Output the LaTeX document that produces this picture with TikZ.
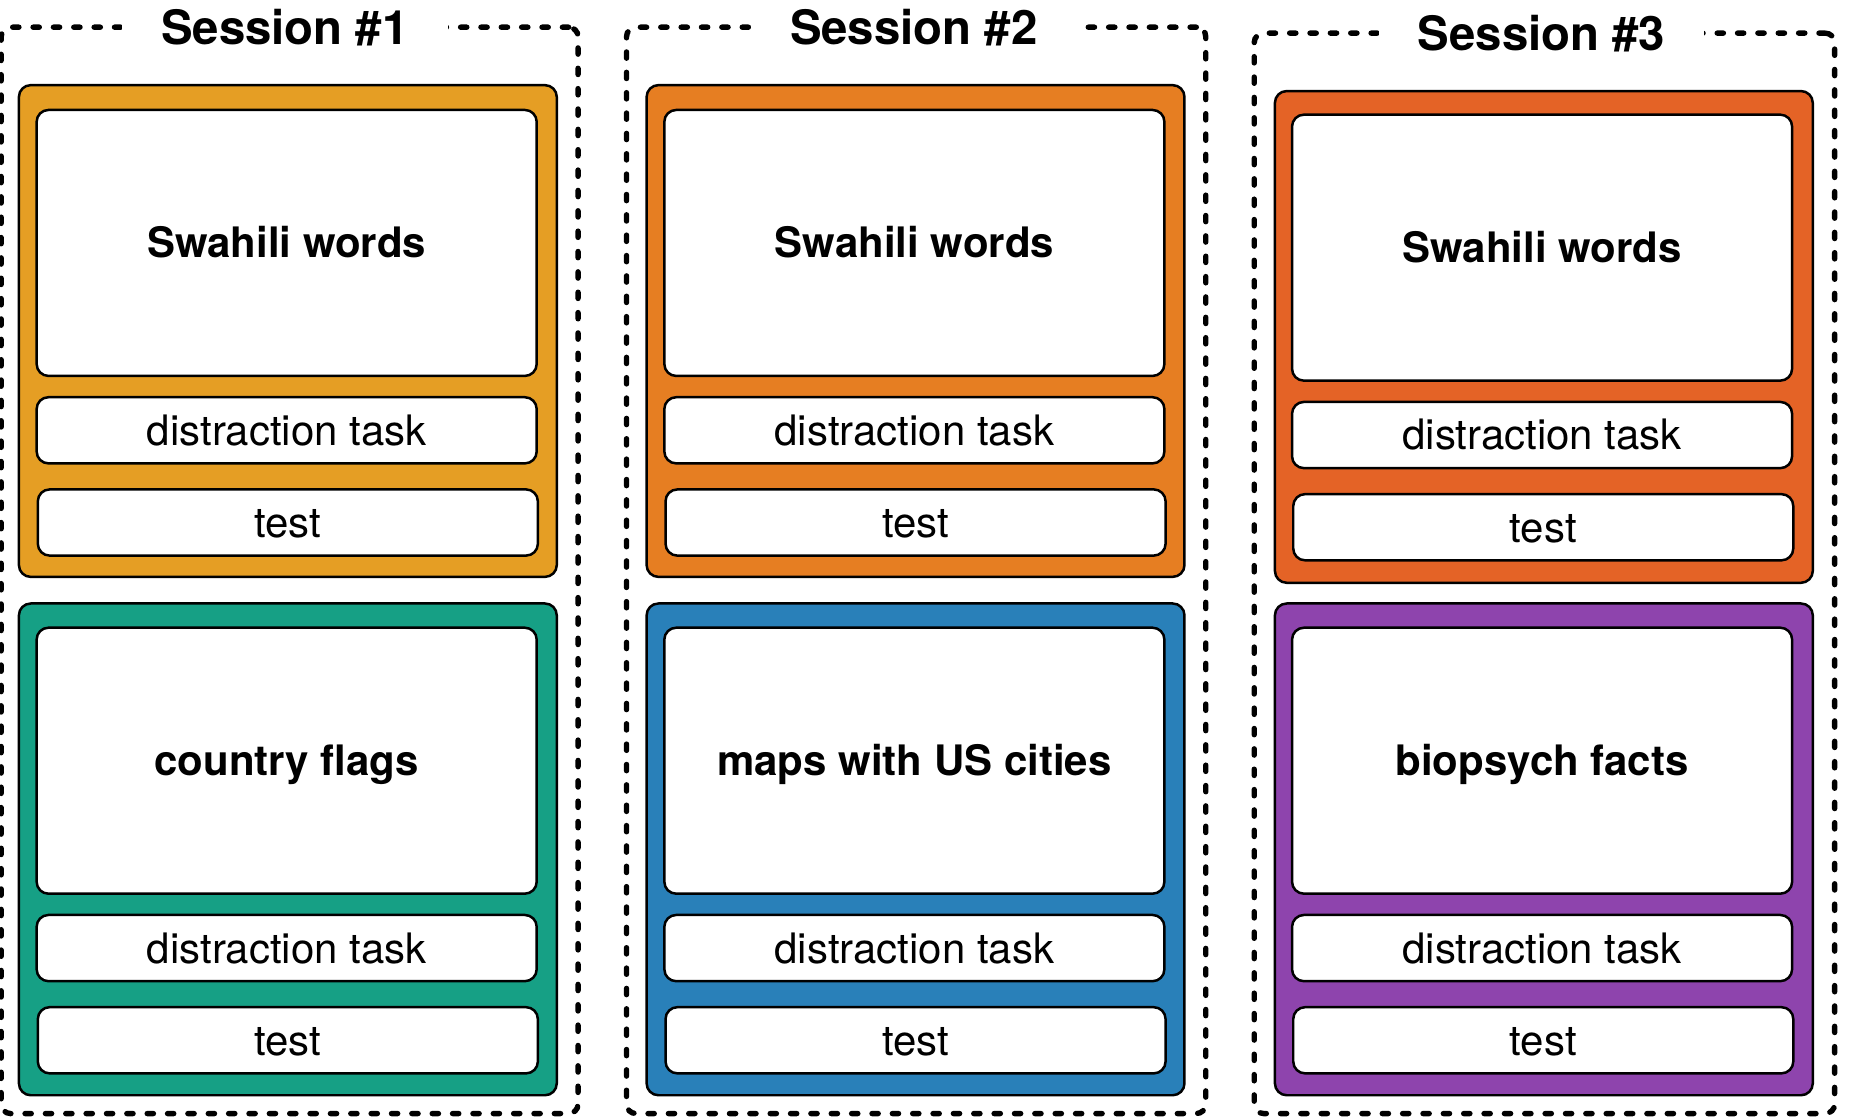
\documentclass[tikz,border=0pt]{standalone}
\usepackage{fontspec}
\setmainfont{TeX Gyre Heros}
\definecolor{swahiliA}{HTML}{E59E24}
\definecolor{flagsgreen}{HTML}{16A085}
\definecolor{swahiliB}{HTML}{E67E22}
\definecolor{mapsblue}{HTML}{2980B9}
\definecolor{swahiliC}{HTML}{E46326}
\definecolor{factspurple}{HTML}{8E44AD}
\tikzset{
  sessionframe/.style={draw, line width=1.3pt, dash pattern=on 1.5pt off 3.4pt, line cap=round, rounded corners=0.08cm},
  sessiontitle/.style={fill=white, inner xsep=0.33cm, inner ysep=0pt, text height=8.2pt, text depth=0pt, font=\fontsize{11.4}{13}\selectfont\bfseries},
  block/.style={draw, line width=0.6pt, rounded corners=0.1cm, minimum width=4.55cm, minimum height=4.16cm},
  card/.style={draw, fill=white, line width=0.6pt, rounded corners=0.1cm, minimum width=4.23cm, inner sep=0pt, text height=7.2pt, text depth=0pt, font=\fontsize{10.1}{12}\selectfont},
  bigcard/.style={card, minimum height=2.25cm, font=\fontsize{10.1}{12}\selectfont\bfseries},
  smallcard/.style={card, minimum height=0.56cm}
}
\begin{document}
\begin{tikzpicture}
    \useasboundingbox (0,0) rectangle (15.65,-9.466);
    % session 1
    \node[sessionframe, minimum width=4.88cm, minimum height=9.19cm] (frame1) at (2.45,-4.825) {};
    \node[sessiontitle] (title1) at (2.41,-0.23) {Session \#1};
    \node[block, fill=swahiliA] (block1a) at (2.435,-2.80) {};
    \node[bigcard] (words1a) at (2.425,-2.055) {Swahili words};
    \node[smallcard] (dist1a) at (2.425,-3.64) {distraction task};
    \node[smallcard] (test1a) at (2.435,-4.42) {test};
    \node[block, fill=flagsgreen] (block1b) at (2.435,-7.185) {};
    \node[bigcard] (words1b) at (2.425,-6.435) {country flags};
    \node[smallcard] (dist1b) at (2.425,-8.02) {distraction task};
    \node[smallcard] (test1b) at (2.435,-8.80) {test};
    % session 2
    \node[sessionframe, minimum width=4.90cm, minimum height=9.19cm] (frame2) at (7.75,-4.825) {};
    \node[sessiontitle] (title2) at (7.73,-0.23) {Session \#2};
    \node[block, fill=swahiliB] (block2a) at (7.745,-2.80) {};
    \node[bigcard] (words2a) at (7.735,-2.055) {Swahili words};
    \node[smallcard] (dist2a) at (7.735,-3.64) {distraction task};
    \node[smallcard] (test2a) at (7.745,-4.42) {test};
    \node[block, fill=mapsblue] (block2b) at (7.745,-7.185) {};
    \node[bigcard] (words2b) at (7.735,-6.435) {maps with US cities};
    \node[smallcard] (dist2b) at (7.735,-8.02) {distraction task};
    \node[smallcard] (test2b) at (7.745,-8.80) {test};
    % session 3
    \node[sessionframe, minimum width=4.91cm, minimum height=9.14cm] (frame3) at (13.065,-4.85) {};
    \node[sessiontitle] (title3) at (13.04,-0.28) {Session \#3};
    \node[block, fill=swahiliC] (block3a) at (13.06,-2.85) {};
    \node[bigcard] (words3a) at (13.045,-2.095) {Swahili words};
    \node[smallcard] (dist3a) at (13.045,-3.68) {distraction task};
    \node[smallcard] (test3a) at (13.055,-4.46) {test};
    \node[block, fill=factspurple] (block3b) at (13.06,-7.185) {};
    \node[bigcard] (words3b) at (13.045,-6.435) {biopsych facts};
    \node[smallcard] (dist3b) at (13.045,-8.02) {distraction task};
    \node[smallcard] (test3b) at (13.055,-8.80) {test};
\end{tikzpicture}
\end{document}
